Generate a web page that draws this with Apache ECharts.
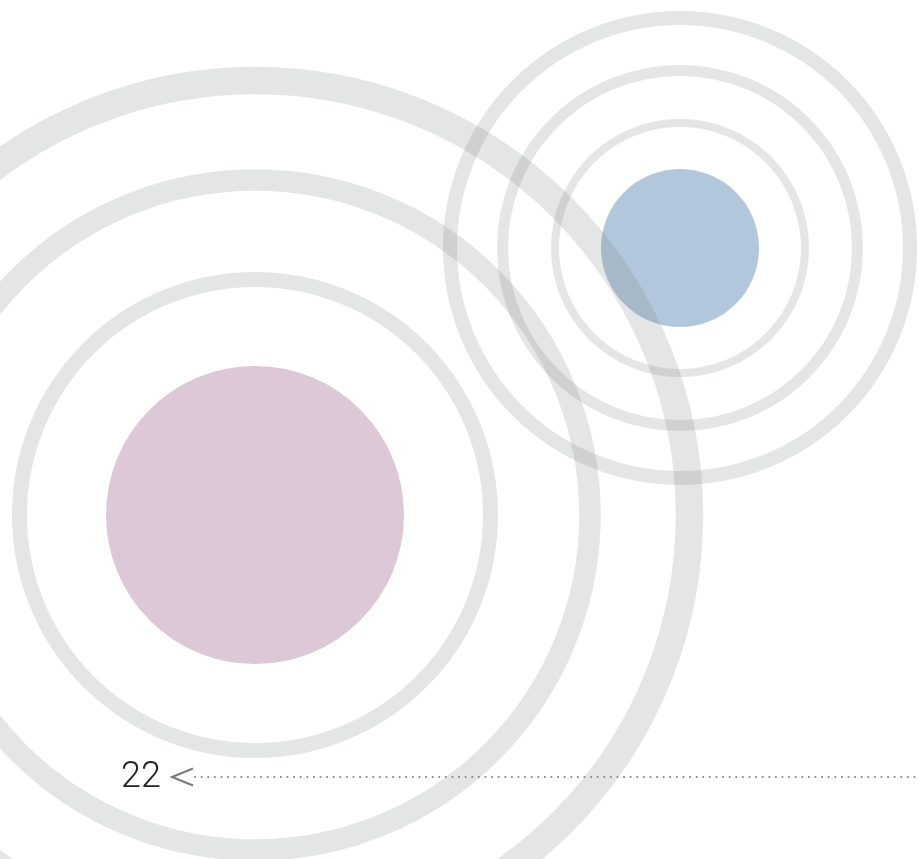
<!DOCTYPE html>
<html>
<head>
<meta charset="utf-8">
<script src="https://cdn.jsdelivr.net/npm/echarts@6/dist/echarts.min.js"></script>
<style>
  html, body { margin: 0; padding: 0; background: #fff; }
  #chart { width: 918px; height: 859px; }
</style>
</head>
<body>
<div id="chart"></div>
<script>
// rings: centre x / y, radius (mid-line) and thickness, in picture units
const ringX = [255, 255, 255, 680, 680, 680]
const ringY = [515, 515, 515, 248, 248, 248]
const ringR = [434.5, 335, 235.5, 230, 177.5, 125]
const ringW = [27.5, 21.5, 15, 14, 11, 8]

// filled discs
const discX = [255, 680]
const discY = [515, 248]
const discR = [149, 79]
const discColor = ['#dcc8d6', '#b3c7dc']

// page marker
const pageLabel = ['22']
const pointerFrom = [172]
const pointerTo = [918]
const pointerY = [777]

const chart = echarts.init(document.getElementById('chart'))

const ringData = ringX.map((x, i) => [x, ringY[i], ringR[i], ringW[i]])
const discData = discX.map((x, i) => [x, discY[i], discR[i], i])
const markerData = pageLabel.map((t, i) => [pointerFrom[i], pointerY[i], pointerTo[i], i])

const option = {
  animation: false,
  grid: { left: 0, right: 0, top: 0, bottom: 0 },
  xAxis: { type: 'value', min: 0, max: 918, show: false },
  yAxis: { type: 'value', min: 0, max: 859, inverse: true, show: false },
  series: [{
    // discs
    type: 'custom',
    data: discData,
    z: 1,
    renderItem(params, api) {
      const c = api.coord([api.value(0), api.value(1)])
      const r = api.size([api.value(2), 0])[0]
      return {
        type: 'circle',
        shape: { cx: c[0], cy: c[1], r: r },
        style: { fill: discColor[api.value(3)] }
      }
    }
  }, {
    // rings
    type: 'custom',
    data: ringData,
    z: 2,
    renderItem(params, api) {
      const c = api.coord([api.value(0), api.value(1)])
      const r = api.size([api.value(2), 0])[0]
      const w = api.size([api.value(3), 0])[0]
      return {
        type: 'circle',
        shape: { cx: c[0], cy: c[1], r: r },
        style: { fill: 'none', stroke: 'rgba(118,124,124,0.2)', lineWidth: w }
      }
    }
  }, {
    // page number with dotted pointer
    type: 'custom',
    data: markerData,
    z: 3,
    renderItem(params, api) {
      const a = api.coord([api.value(0), api.value(1)])
      const b = api.coord([api.value(2), api.value(1)])
      return {
        type: 'group',
        children: [{
          type: 'text',
          style: {
            text: pageLabel[api.value(3)],
            x: a[0] - 51, y: a[1] + 1,
            align: 'left', verticalAlign: 'middle',
            fontFamily: 'Roboto', fontWeight: 300, fontSize: 36,
            fill: '#222'
          }
        }, {
          type: 'polyline',
          shape: { points: [[a[0] + 21, a[1] - 8.5], [a[0], a[1]], [a[0] + 21, a[1] + 8.5]] },
          style: { stroke: '#7a7a7a', lineWidth: 2, fill: 'none' }
        }, {
          type: 'line',
          shape: { x1: a[0] + 23, y1: a[1], x2: b[0], y2: b[1] },
          style: { stroke: '#888', lineWidth: 2, lineCap: 'round', lineDash: [0.1, 6.5] }
        }]
      }
    }
  }]
}

chart.setOption(option)
</script>
</body>
</html>
